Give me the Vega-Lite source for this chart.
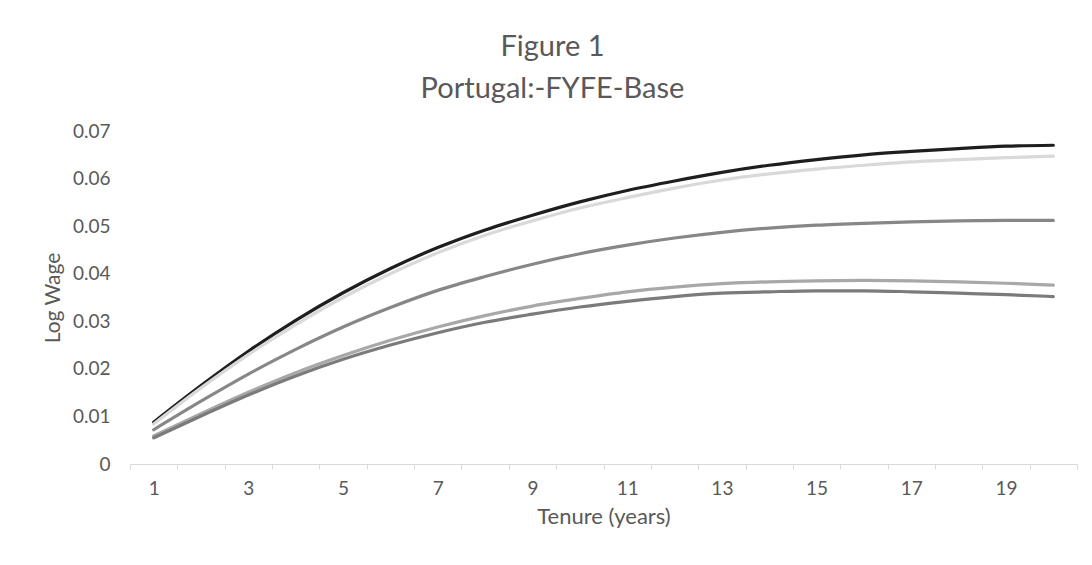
{
  "$schema": "https://vega.github.io/schema/vega-lite/v6.json",
  "autosize": "none",
  "width": 947,
  "height": 333,
  "padding": {"left": 130, "top": 131, "right": 15, "bottom": 101},
  "background": "white",
  "config": {
    "view": {"stroke": null},
    "font": "Lato"
  },
  "title": {
    "text": ["Figure 1", "Portugal:-FYFE-Base"],
    "fontSize": 29,
    "fontWeight": "normal",
    "color": "#595959",
    "lineHeight": 42,
    "anchor": "middle",
    "frame": "group",
    "dx": -51,
    "offset": 18
  },
  "data": {
    "values": [
      {"t":1,"s":"A","v":0.0088},{"t":2,"s":"A","v":0.0165},{"t":3,"s":"A","v":0.0237},{"t":4,"s":"A","v":0.0302},{"t":5,"s":"A","v":0.036},{"t":6,"s":"A","v":0.0411},{"t":7,"s":"A","v":0.0455},{"t":8,"s":"A","v":0.0492},{"t":9,"s":"A","v":0.0523},{"t":10,"s":"A","v":0.0551},{"t":11,"s":"A","v":0.0575},{"t":12,"s":"A","v":0.0595},{"t":13,"s":"A","v":0.0613},{"t":14,"s":"A","v":0.0628},{"t":15,"s":"A","v":0.064},{"t":16,"s":"A","v":0.065},{"t":17,"s":"A","v":0.0657},{"t":18,"s":"A","v":0.0663},{"t":19,"s":"A","v":0.0668},{"t":20,"s":"A","v":0.067},
      {"t":1,"s":"B","v":0.0084},{"t":2,"s":"B","v":0.016},{"t":3,"s":"B","v":0.023},{"t":4,"s":"B","v":0.0293},{"t":5,"s":"B","v":0.035},{"t":6,"s":"B","v":0.04},{"t":7,"s":"B","v":0.0444},{"t":8,"s":"B","v":0.0481},{"t":9,"s":"B","v":0.0511},{"t":10,"s":"B","v":0.0538},{"t":11,"s":"B","v":0.056},{"t":12,"s":"B","v":0.058},{"t":13,"s":"B","v":0.0597},{"t":14,"s":"B","v":0.061},{"t":15,"s":"B","v":0.062},{"t":16,"s":"B","v":0.0628},{"t":17,"s":"B","v":0.0635},{"t":18,"s":"B","v":0.064},{"t":19,"s":"B","v":0.0644},{"t":20,"s":"B","v":0.0647},
      {"t":1,"s":"C","v":0.0072},{"t":2,"s":"C","v":0.0132},{"t":3,"s":"C","v":0.0189},{"t":4,"s":"C","v":0.0241},{"t":5,"s":"C","v":0.0288},{"t":6,"s":"C","v":0.0329},{"t":7,"s":"C","v":0.0365},{"t":8,"s":"C","v":0.0394},{"t":9,"s":"C","v":0.042},{"t":10,"s":"C","v":0.0442},{"t":11,"s":"C","v":0.046},{"t":12,"s":"C","v":0.0475},{"t":13,"s":"C","v":0.0487},{"t":14,"s":"C","v":0.0496},{"t":15,"s":"C","v":0.0502},{"t":16,"s":"C","v":0.0506},{"t":17,"s":"C","v":0.0509},{"t":18,"s":"C","v":0.0511},{"t":19,"s":"C","v":0.0512},{"t":20,"s":"C","v":0.0512},
      {"t":1,"s":"D","v":0.0059},{"t":2,"s":"D","v":0.0106},{"t":3,"s":"D","v":0.0151},{"t":4,"s":"D","v":0.0192},{"t":5,"s":"D","v":0.0228},{"t":6,"s":"D","v":0.026},{"t":7,"s":"D","v":0.0288},{"t":8,"s":"D","v":0.0312},{"t":9,"s":"D","v":0.0332},{"t":10,"s":"D","v":0.0348},{"t":11,"s":"D","v":0.0362},{"t":12,"s":"D","v":0.0372},{"t":13,"s":"D","v":0.0379},{"t":14,"s":"D","v":0.0383},{"t":15,"s":"D","v":0.0385},{"t":16,"s":"D","v":0.0386},{"t":17,"s":"D","v":0.0385},{"t":18,"s":"D","v":0.0383},{"t":19,"s":"D","v":0.038},{"t":20,"s":"D","v":0.0376},
      {"t":1,"s":"E","v":0.0055},{"t":2,"s":"E","v":0.0101},{"t":3,"s":"E","v":0.0145},{"t":4,"s":"E","v":0.0185},{"t":5,"s":"E","v":0.022},{"t":6,"s":"E","v":0.025},{"t":7,"s":"E","v":0.0276},{"t":8,"s":"E","v":0.0298},{"t":9,"s":"E","v":0.0315},{"t":10,"s":"E","v":0.033},{"t":11,"s":"E","v":0.0342},{"t":12,"s":"E","v":0.0352},{"t":13,"s":"E","v":0.0359},{"t":14,"s":"E","v":0.0362},{"t":15,"s":"E","v":0.0364},{"t":16,"s":"E","v":0.0364},{"t":17,"s":"E","v":0.0362},{"t":18,"s":"E","v":0.0359},{"t":19,"s":"E","v":0.0356},{"t":20,"s":"E","v":0.0352}
    ]
  },
  "mark": {"type": "line", "strokeWidth": 3.2, "interpolate": "monotone", "strokeCap": "round"},
  "encoding": {
    "x": {
      "field": "t",
      "type": "ordinal",
      "bandPosition": 0.5,
      "scale": {"type": "band", "paddingInner": 0, "paddingOuter": 0},
      "axis": {
        "title": "Tenure (years)",
        "titleFontSize": 22,
        "titleFontWeight": "normal",
        "titleColor": "#595959",
        "titlePadding": 8,
        "labelAngle": 0,
        "labelFontSize": 19,
        "labelColor": "#595959",
        "labelPadding": 10,
        "labelExpr": "datum.value % 2 == 1 ? datum.label : ''",
        "tickBand": "extent",
        "tickColor": "#d9d9d9",
        "tickSize": 5,
        "domainColor": "#d9d9d9",
        "grid": false
      }
    },
    "y": {
      "field": "v",
      "type": "quantitative",
      "scale": {"domain": [0, 0.07], "nice": false},
      "axis": {
        "title": "Log Wage",
        "titleFontSize": 21,
        "titleFontWeight": "normal",
        "titleColor": "#595959",
        "titlePadding": 9,
        "values": [0, 0.01, 0.02, 0.03, 0.04, 0.05, 0.06, 0.07],
        "labelExpr": "datum.value == 0 ? '0' : format(datum.value, '.2f')",
        "labelFontSize": 19,
        "labelColor": "#595959",
        "labelPadding": 20,
        "domain": false,
        "ticks": false,
        "grid": false
      }
    },
    "color": {
      "field": "s",
      "type": "nominal",
      "scale": {"domain": ["A", "B", "C", "D", "E"], "range": ["#1e1e1e", "#d9d9d9", "#878787", "#a8a8a8", "#7b7b7b"]},
      "legend": null
    },
    "order": {"field": "t", "type": "quantitative"}
  }
}
